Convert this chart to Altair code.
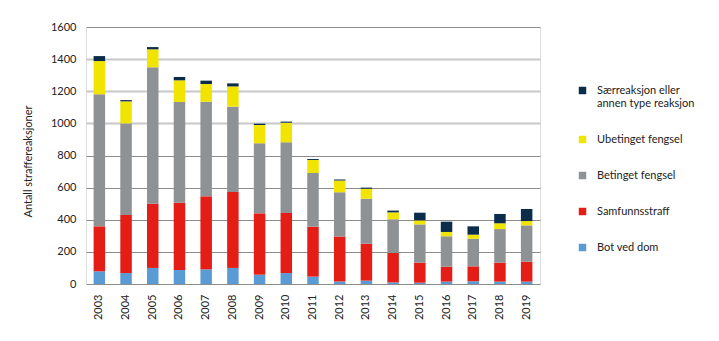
import altair as alt
import pandas as pd

years = [str(y) for y in range(2003, 2020)]
bot = [79, 68, 100, 87, 91, 100, 58, 68, 46, 15, 21, 10, 8, 15, 17, 15, 15]
samfunnsstraff = [280, 362, 400, 419, 455, 473, 382, 374, 311, 280, 230, 183, 125, 93, 93, 118, 124]
betinget = [822, 570, 849, 627, 589, 531, 436, 440, 334, 276, 280, 210, 238, 189, 172, 209, 226]
ubetinget = [207, 137, 112, 135, 110, 126, 114, 122, 81, 74, 62, 43, 25, 27, 25, 36, 27]
saerreaksjon = [31, 8, 14, 21, 21, 19, 8, 7, 6, 5, 7, 11, 48, 64, 52, 58, 75]

series_names = ["Bot ved dom", "Samfunnsstraff", "Betinget fengsel", "Ubetinget fengsel",
                "Særreaksjon eller annen type reaksjon"]
series_values = [bot, samfunnsstraff, betinget, ubetinget, saerreaksjon]
series_colors = ["#5b9bd5", "#e41e17", "#8e9295", "#f0e400", "#0c2c4c"]

rows = []
for idx, (name, vals) in enumerate(zip(series_names, series_values)):
    for yr, v in zip(years, vals):
        rows.append({"year": yr, "type": name, "value": v, "order": idx})
df = pd.DataFrame(rows)

legend_domain = series_names[::-1]
legend_range = series_colors[::-1]

FONT = "Lato"
TXT = "#222222"

chart = alt.Chart(df).mark_bar(size=11.5).encode(
    x=alt.X("year:N", title=None, sort=years,
            scale=alt.Scale(paddingInner=0, paddingOuter=0),
            axis=alt.Axis(labelAngle=-90, ticks=False, domain=False, labelPadding=10,
                          labelFont=FONT, labelFontSize=11, labelColor=TXT, grid=False)),
    y=alt.Y("value:Q", title="Antall straffereaksjoner",
            scale=alt.Scale(domain=[0, 1600], nice=False),
            axis=alt.Axis(values=[0, 200, 400, 600, 800, 1000, 1200, 1400, 1600],
                          format="d",
                          ticks=False, domain=False, labelPadding=10,
                          labelFont=FONT, labelFontSize=11, labelColor=TXT,
                          titleFont=FONT, titleFontSize=11, titleFontWeight="normal",
                          titleColor=TXT, titleAngle=270, titleAlign="center",
                          titleBaseline="middle", titleX=-58, titleY=134,
                          gridColor={"condition": {"test": "datum.value >= 1000 && datum.value <= 1400",
                                                   "value": "#c8c8c8"}, "value": "#8c8c8c"},
                          gridWidth={"condition": {"test": "datum.value >= 1000 && datum.value <= 1400",
                                                   "value": 2}, "value": 1})),
    color=alt.Color("type:N", scale=alt.Scale(domain=legend_domain, range=legend_range),
                    legend=alt.Legend(
                        title=None, orient="none", legendX=491, legendY=58,
                        symbolType="square", symbolSize=56, symbolStrokeWidth=0,
                        labelFont=FONT, labelFontSize=11, labelColor=TXT, labelOffset=9,
                        labelLimit=300, rowPadding=24, padding=0,
                        labelExpr="datum.label == 'Særreaksjon eller annen type reaksjon' ? ['Særreaksjon eller', 'annen type reaksjon'] : datum.label")),
    order=alt.Order("order:Q", sort="ascending"),
    tooltip=["year", "type", "value"],
).properties(
    width=454, height=257,
    autosize=alt.AutoSizeParams(type="none"),
    padding={"left": 86, "top": 27, "right": 179, "bottom": 57},
).configure_view(stroke=None).configure(background="white")

chart.save("out.html", embed_options={"renderer": "svg", "actions": False})
